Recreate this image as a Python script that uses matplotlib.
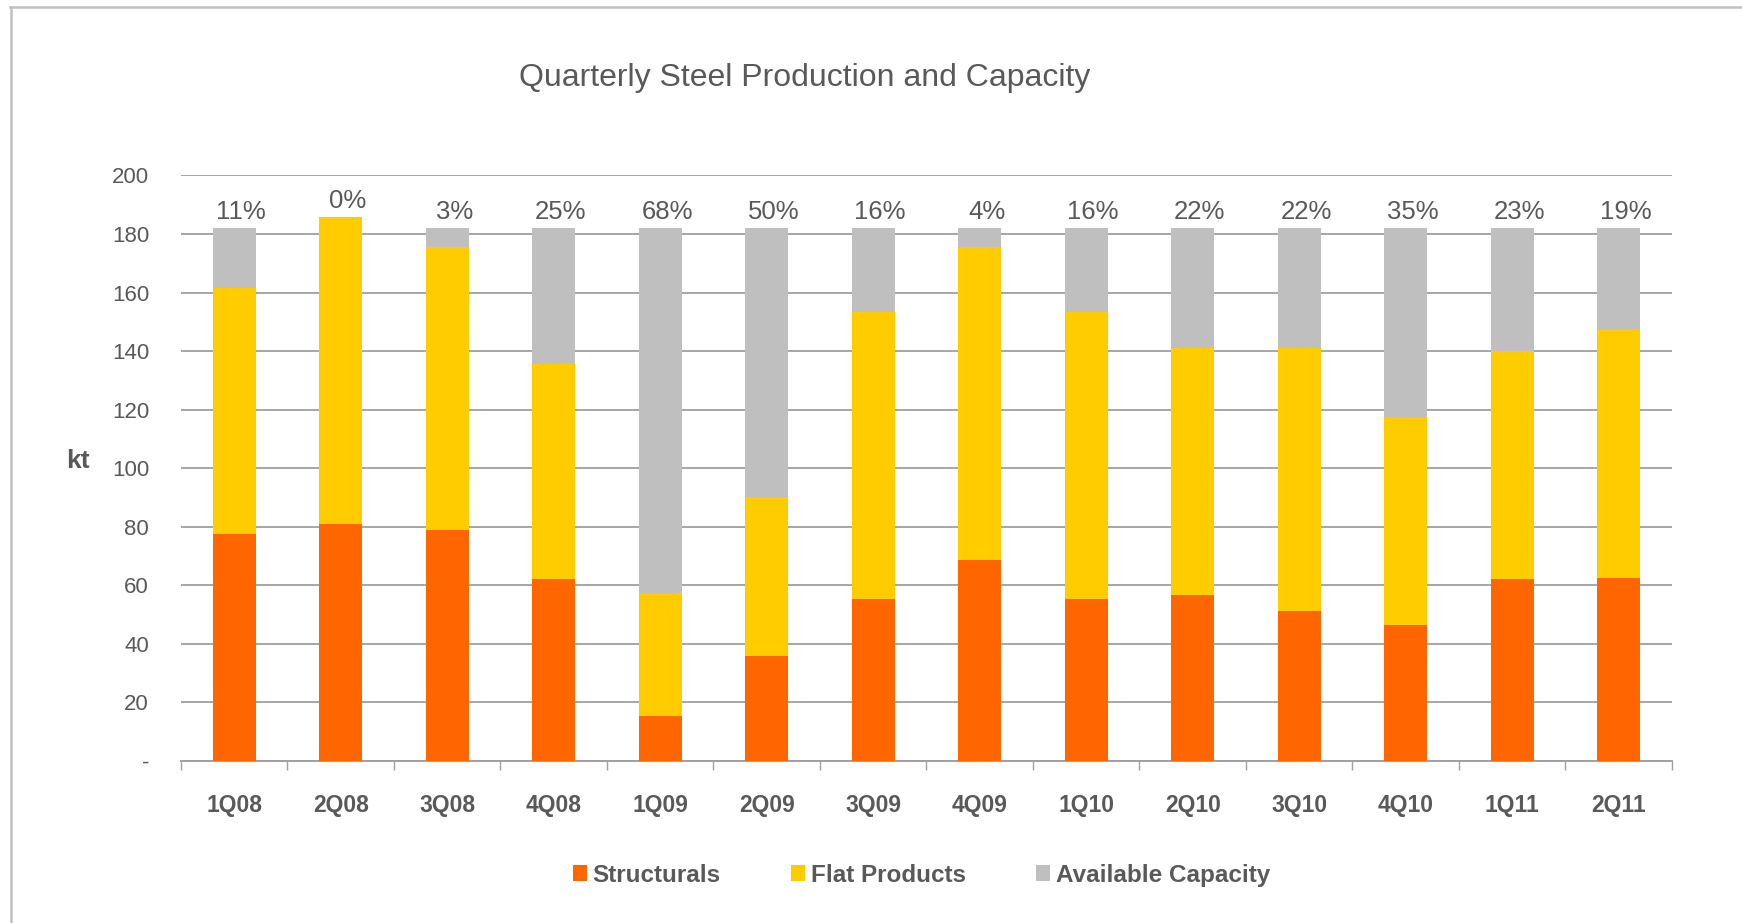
import numpy as np
import matplotlib
matplotlib.use('Agg')
import matplotlib.pyplot as plt
from matplotlib.lines import Line2D

# Data (kt per quarter)
quarters    = ['1Q08', '2Q08', '3Q08', '4Q08', '1Q09', '2Q09', '3Q09',
               '4Q09', '1Q10', '2Q10', '3Q10', '4Q10', '1Q11', '2Q11']
structurals = [77.7, 80.8, 78.8, 62.0, 15.3, 35.7, 55.4,
               68.5, 55.4, 56.7, 51.4, 46.6, 62.0, 62.6]
flat        = [83.8, 105.0, 96.9, 73.7, 42.1, 54.6, 98.1,
               106.9, 98.1, 84.5, 89.8, 71.0, 78.1, 85.1]
available   = [20.5, 0.0, 6.3, 46.3, 124.6, 91.7, 28.5,
               6.6, 28.5, 40.8, 40.8, 64.4, 41.9, 34.3]
pct_labels  = ['11%', '0%', '3%', '25%', '68%', '50%', '16%',
               '4%', '16%', '22%', '22%', '35%', '23%', '19%']
y_ticks     = [0, 20, 40, 60, 80, 100, 120, 140, 160, 180, 200]
y_labels    = ['-', '20', '40', '60', '80', '100', '120', '140', '160', '180', '200']

# Colours
c_struct = '#FF6600'
c_flat   = '#FFCC00'
c_avail  = '#BFBFBF'
c_text   = '#595959'
c_grid   = '#A6A6A6'

plt.rcParams['font.family'] = ['Liberation Sans', 'DejaVu Sans']

fig = plt.figure(figsize=(17.42, 9.23), dpi=100)
ax = fig.add_axes([0.1039, 0.1755, 0.8559, 0.6344])

x = np.arange(len(quarters))
s = np.array(structurals)
f = np.array(flat)
a = np.array(available)
width = 0.4

ax.bar(x, s, width, color=c_struct, label='Structurals', zorder=3)
ax.bar(x, f, width, bottom=s, color=c_flat, label='Flat Products', zorder=3)
ax.bar(x, a, width, bottom=s + f, color=c_avail, label='Available Capacity', zorder=3)

# Percent of unused capacity above each stack
tops = s + f + a
for xi, top, txt in zip(x, tops, pct_labels):
    ax.annotate(txt, (xi, top), xytext=(5, 3), textcoords='offset points',
                ha='center', va='bottom', fontsize=18.5, color=c_text)

# Axes limits, grid and spines
ax.set_xlim(-0.5, len(quarters) - 0.5)
ax.set_ylim(0, 200)
ax.yaxis.grid(True, color=c_grid, linewidth=1.4, zorder=0)
ax.set_axisbelow(True)
for side in ['top', 'left', 'right']:
    ax.spines[side].set_visible(False)
ax.spines['bottom'].set_color('#A0A0A0')
ax.spines['bottom'].set_linewidth(1.4)

ax.set_yticks(y_ticks)
ax.set_yticklabels(y_labels)
ax.tick_params(axis='y', length=0, pad=23, labelsize=16, labelcolor=c_text)

ax.set_xticks(x)
ax.set_xticklabels(quarters, fontweight='bold')
ax.tick_params(axis='x', which='major', length=0, pad=24, labelsize=16.5, labelcolor=c_text)
ax.set_xticks(np.arange(len(quarters) + 1) - 0.5, minor=True)
ax.tick_params(axis='x', which='minor', length=6.5, width=1, color='#A0A0A0', direction='out')

ax.set_ylabel('kt', rotation=0, fontsize=19, fontweight='bold', color=c_text,
              va='center', ha='center')
ax.yaxis.set_label_coords(-0.069, 0.512)

# Title
fig.text(0.462, 0.9068, 'Quarterly Steel Production and Capacity',
         ha='center', va='baseline', fontsize=23, color=c_text)

# Legend below the plot
leg = fig.legend(loc='center', bbox_to_anchor=(0.529, 0.052), ncol=3, frameon=False,
                 handlelength=0.55, handleheight=0.6, handletextpad=0.25,
                 columnspacing=2.9, prop={'size': 17.5, 'weight': 'bold'})
for t in leg.get_texts():
    t.set_color(c_text)

# Outer frame (only top and left edges visible in the original)
fig.add_artist(Line2D([0.0058, 1.0], [0.9919, 0.9919], transform=fig.transFigure,
                      color='#C0C0C0', linewidth=1.8))
fig.add_artist(Line2D([0.0063, 0.0063], [0.0, 0.9919], transform=fig.transFigure,
                      color='#C0C0C0', linewidth=1.8))

plt.savefig('out.png', dpi=100, facecolor='white')
